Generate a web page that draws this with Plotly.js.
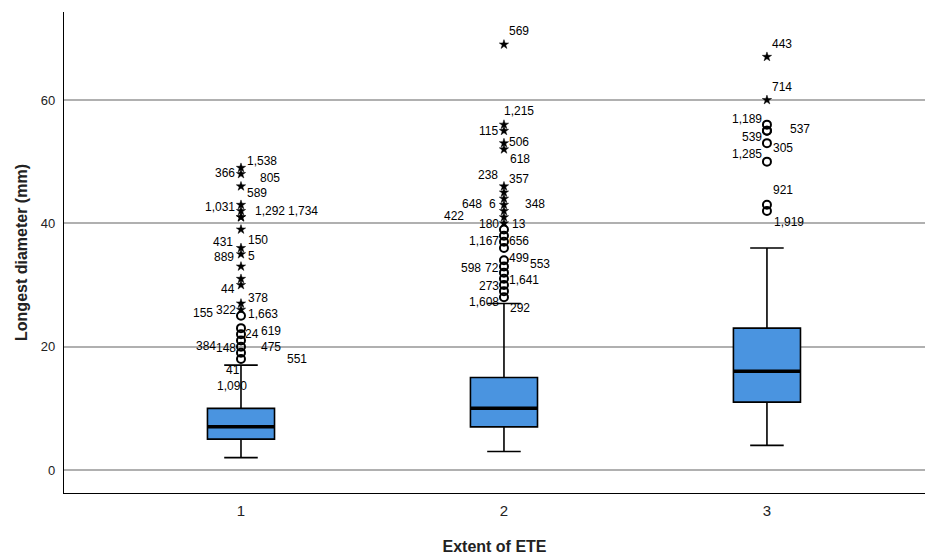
<!DOCTYPE html>
<html>
<head>
<meta charset="utf-8">
<script src="https://cdn.plot.ly/plotly-3.0.1.min.js"></script>
<style>html,body{margin:0;padding:0;background:#fff;}#chart{width:929px;height:555px;}</style>
</head>
<body>
<div id="chart"></div>
<script>
// ---- data ----
const categories = [1, 2, 3];
const categoryLabels = ["1", "2", "3"];
const q1 = [5, 7, 11];
const median = [7, 10, 16];
const q3 = [10, 15, 23];
const lowerWhisker = [2, 3, 4];
const upperWhisker = [17, 27, 36];

// outliers (circles) and extreme values (stars) per category
const outliers1 = [25, 23, 22, 21, 20, 19, 18];
const outliers2 = [39, 38, 37, 36, 34, 33, 32, 31, 30, 29, 28];
const outliers3 = [56, 55, 55, 53, 50, 43, 42];
const extremes1 = [49, 48, 46, 43, 42, 41, 41, 39, 36, 35, 33, 31, 30, 27, 26];
const extremes2 = [69, 56, 55, 53, 52, 46, 45, 44, 43, 42, 41, 40];
const extremes3 = [67, 60];

// case labels: text, value level, horizontal offset (px), anchor
const labels1Text = ["1,538","366","805","589","1,031","1,292","1,734","431","150","889","5","44","378","155","322","1,663","24","619","384","148","475","551","41","1,090"];
const labels1Y    = [50.1,48.2,47.4,44.9,42.6,42.0,42.0,37.0,37.3,34.5,34.7,29.4,27.9,25.5,25.9,25.3,22.1,22.5,20.1,19.8,19.9,18.0,16.2,13.6];
const labels1Dx   = [4,-4,17,4,-4,12,45,-6,5,-5,5,-4,5,-26,-3,5,2,18,-23,-3,18,44,-17,-26];
const labels1Side = ["l","r","l","l","r","l","l","r","l","r","l","r","l","r","r","l","l","l","r","r","l","l","l","l"];

const labels2Text = ["569","1,215","115","506","618","238","357","648","6","348","422","180","13","1,167","656","499","553","598","72","1,641","273","1,608","292"];
const labels2Y    = [71.2,58.2,55.0,53.2,50.4,47.8,47.2,43.1,43.1,43.1,41.2,39.9,39.9,37.1,37.1,34.4,33.4,32.8,32.8,30.8,29.8,27.2,26.3];
const labels2Dx   = [3,-2,-4,3,4,-4,3,-20,-6,19,-38,-3,6,-3,3,3,24,-21,-3,3,-3,-3,4];
const labels2Side = ["l","l","r","l","l","r","l","r","r","l","r","r","l","r","l","l","l","r","r","l","r","r","l"];

const labels3Text = ["443","714","1,189","539","537","305","1,285","921","1,919"];
const labels3Y    = [69.1,62.1,56.9,54.0,55.3,52.2,51.2,45.4,40.2];
const labels3Dx   = [3,3,-3,-3,21,4,-3,4,5];
const labels3Side = ["l","l","r","r","l","l","r","l","l"];

// ---- styles ----
const BOX_W = 0.255;
const FONT = "Arial, 'Liberation Sans', sans-serif";
const boxFill = "#4a94e0";

const traces = [{
  type: "box",
  x: categories,
  q1: q1, median: median, q3: q3,
  lowerfence: lowerWhisker, upperfence: upperWhisker,
  boxpoints: false,
  width: BOX_W,
  whiskerwidth: 0.5,
  fillcolor: boxFill,
  line: {color: "#000", width: 1.6},
  hoverinfo: "skip",
  showlegend: false
}];

const outs = [outliers1, outliers2, outliers3];
const exts = [extremes1, extremes2, extremes3];
outs.forEach((arr, i) => {
  traces.push({
    type: "scatter", mode: "markers",
    x: arr.map(() => categories[i]), y: arr,
    marker: {symbol: "circle-open", size: 8, color: "#000", line: {width: 2, color: "#000"}},
    showlegend: false, hoverinfo: "skip", cliponaxis: false
  });
});
exts.forEach((arr, i) => {
  traces.push({
    type: "scatter", mode: "markers",
    x: arr.map(() => categories[i]), y: arr,
    marker: {symbol: "star", size: 7, color: "#000", line: {width: 0.5, color: "#000"}},
    showlegend: false, hoverinfo: "skip", cliponaxis: false
  });
});

const annotations = [];
const labelSets = [
  [labels1Text, labels1Y, labels1Dx, labels1Side],
  [labels2Text, labels2Y, labels2Dx, labels2Side],
  [labels3Text, labels3Y, labels3Dx, labels3Side]
];
labelSets.forEach((set, i) => {
  const [t, y, dx, side] = set;
  t.forEach((txt, k) => {
    annotations.push({
      x: categories[i], y: y[k], xref: "x", yref: "y",
      text: txt, showarrow: false,
      xanchor: side[k] === "l" ? "left" : "right",
      yanchor: "middle",
      xshift: dx[k],
      font: {family: FONT, size: 12, color: "#000"}
    });
  });
});

// thick median lines
const shapes = median.map((m, i) => ({
  type: "line", xref: "x", yref: "y",
  x0: categories[i] - BOX_W / 2, x1: categories[i] + BOX_W / 2,
  y0: m, y1: m,
  line: {color: "#000", width: 3.5}
}));

const layout = {
  width: 929, height: 555,
  margin: {l: 64, r: 4, t: 12, b: 62},
  paper_bgcolor: "#fff", plot_bgcolor: "#fff",
  font: {family: FONT, size: 13, color: "#222"},
  showlegend: false,
  xaxis: {
    range: [0.327, 3.601],
    tickvals: categories, ticktext: categoryLabels,
    showgrid: false, zeroline: false,
    showline: true, linecolor: "#000", linewidth: 1.2,
    ticks: "outside", ticklen: 4, tickcolor: "rgba(0,0,0,0)",
    tickfont: {family: FONT, size: 15, color: "#222"},
    title: {text: "Extent of ETE", font: {family: FONT, size: 16, color: "#222", weight: "bold"}, standoff: 27}
  },
  yaxis: {
    range: [-3.73, 74.27],
    tickvals: [0, 20, 40, 60],
    showgrid: true, gridcolor: "#b0b0b0", gridwidth: 1.8,
    zeroline: false,
    showline: true, linecolor: "#000", linewidth: 1.2,
    ticks: "outside", ticklen: 5, tickcolor: "rgba(0,0,0,0)",
    tickfont: {family: FONT, size: 13, color: "#222"},
    title: {text: "Longest diameter (mm)", font: {family: FONT, size: 16, color: "#222", weight: "bold"}, standoff: 9}
  },
  annotations: annotations,
  shapes: shapes
};

Plotly.newPlot("chart", traces, layout, {staticPlot: true, displayModeBar: false});
</script>
</body>
</html>
